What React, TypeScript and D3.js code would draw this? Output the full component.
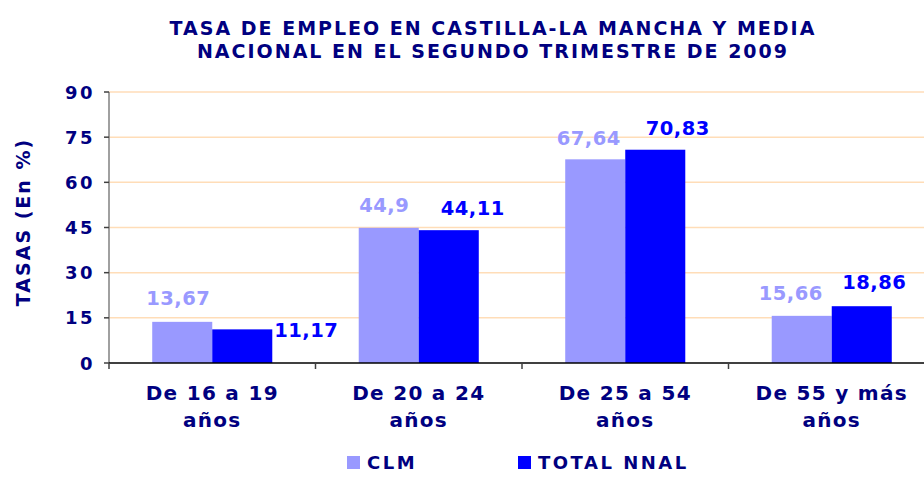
import React from "react";
import * as d3 from "d3";

const categories: string[][] = [
  ["De 16 a 19", "años"],
  ["De 20 a 24", "años"],
  ["De 25 a 54", "años"],
  ["De 55 y más", "años"],
];
const seriesNames = ["CLM", "TOTAL NNAL"];
const clmValues = [13.67, 44.9, 67.64, 15.66];
const totalValues = [11.17, 44.11, 70.83, 18.86];
const yTicks = [0, 15, 30, 45, 60, 75, 90];
const titleLines = [
  "TASA DE EMPLEO EN CASTILLA-LA MANCHA Y MEDIA",
  "NACIONAL EN EL SEGUNDO TRIMESTRE DE 2009",
];
const yAxisTitle = "TASAS (En %)";

// styling / label nudges (label positions were manually moved in the source chart)
const seriesColors = ["#9999FF", "#0000FF"];
const labelDx = [
  [-4, -4.5, -6.5, -11],
  [64, 24, 22.5, 12.5],
];
const labelDy = [
  [-17, -16, -14, -16],
  [8, -15, -15, -17],
];

const W = 924;
const H = 487;
const NAVY = "#000080";
const FONT = "'DejaVu Sans', Verdana, sans-serif";

export default function App() {
  const left = 109;
  const right = 935;
  const top = 92;
  const bottom = 363;

  const catKeys = categories.map((c) => c.join(" "));
  const x0 = d3.scaleBand<string>().domain(catKeys).range([left, right]).padding(0);
  const x1 = d3
    .scaleBand<string>()
    .domain(seriesNames)
    .range([0, x0.bandwidth()])
    .paddingInner(0)
    .paddingOuter(0.72);
  const y = d3.scaleLinear().domain([0, 90]).range([bottom, top]);

  const allSeries = [clmValues, totalValues];
  const fmt = (v: number) => String(v).replace(".", ",");

  return (
    <svg
      width={W}
      height={H}
      style={{ position: "absolute", left: 0, top: 0, background: "#fff" }}
      fontFamily={FONT}
      fontWeight="bold"
    >
      {/* Title */}
      {titleLines.map((t, i) => (
        <text
          key={i}
          x={493}
          y={35 + i * 23}
          textAnchor="middle"
          fontSize={19}
          letterSpacing={2}
          fill={NAVY}
        >
          {t}
        </text>
      ))}

      {/* Gridlines */}
      {yTicks
        .filter((t) => t > 0)
        .map((t) => (
          <line
            key={t}
            x1={left}
            x2={W}
            y1={y(t)}
            y2={y(t)}
            stroke="#FFDDB8"
            strokeWidth={1.5}
          />
        ))}

      {/* Bars */}
      {allSeries.map((vals, si) =>
        vals.map((v, ci) => (
          <rect
            key={`${si}-${ci}`}
            x={(x0(catKeys[ci]) ?? 0) + (x1(seriesNames[si]) ?? 0)}
            y={y(v)}
            width={x1.bandwidth()}
            height={y(0) - y(v)}
            fill={seriesColors[si]}
          />
        ))
      )}

      {/* Y axis */}
      <line x1={left} x2={left} y1={top} y2={bottom} stroke="#808080" strokeWidth={1.5} />
      {yTicks.map((t) => (
        <g key={t}>
          <line x1={left - 5} x2={left} y1={y(t)} y2={y(t)} stroke="#404040" strokeWidth={1.5} />
          <text
            x={95}
            y={y(t) + 6.5}
            textAnchor="end"
            fontSize={18}
            letterSpacing={2.5}
            fill={NAVY}
          >
            {t}
          </text>
        </g>
      ))}

      {/* X axis */}
      <line x1={left} x2={W} y1={bottom} y2={bottom} stroke="#000" strokeWidth={1.5} />
      {catKeys.map((k) => (
        <line
          key={k}
          x1={x0(k) ?? 0}
          x2={x0(k) ?? 0}
          y1={bottom}
          y2={bottom + 6}
          stroke="#404040"
          strokeWidth={1.5}
        />
      ))}
      {categories.map((lines, ci) => (
        <text
          key={ci}
          textAnchor="middle"
          fontSize={20}
          letterSpacing={1.3}
          fill={NAVY}
        >
          {lines.map((ln, li) => (
            <tspan
              key={li}
              x={(x0(catKeys[ci]) ?? 0) + x0.bandwidth() / 2}
              y={400 + li * 27}
            >
              {ln}
            </tspan>
          ))}
        </text>
      ))}

      {/* Data labels */}
      {allSeries.map((vals, si) =>
        vals.map((v, ci) => (
          <text
            key={`l-${si}-${ci}`}
            x={
              (x0(catKeys[ci]) ?? 0) +
              (x1(seriesNames[si]) ?? 0) +
              x1.bandwidth() / 2 +
              labelDx[si][ci]
            }
            y={y(v) + labelDy[si][ci]}
            textAnchor="middle"
            fontSize={19.5}
            letterSpacing={0.5}
            fill={seriesColors[si]}
          >
            {fmt(v)}
          </text>
        ))
      )}

      {/* Y axis title */}
      <text
        transform={`translate(30, 222) rotate(-90)`}
        textAnchor="middle"
        fontSize={19}
        letterSpacing={2}
        fill={NAVY}
      >
        {yAxisTitle}
      </text>

      {/* Legend */}
      {seriesNames.map((s, i) => {
        const lx = i === 0 ? 347 : 518;
        return (
          <g key={s}>
            <rect x={lx} y={456} width={13} height={13} fill={seriesColors[i]} />
            <text x={lx + 20} y={469} fontSize={18} letterSpacing={2.5} fill={NAVY}>
              {s}
            </text>
          </g>
        );
      })}
    </svg>
  );
}
